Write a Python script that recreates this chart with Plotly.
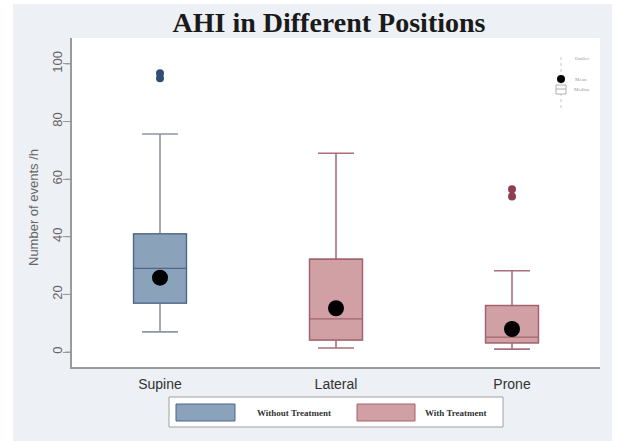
import plotly.graph_objects as go

# ---- data ----
positions = ["Supine", "Lateral", "Prone"]
group_without = ["Supine"]
group_with = ["Lateral", "Prone"]
q1_without = [17]
median_without = [29]
q3_without = [41]
lower_without = [7]
upper_without = [75.7]
q1_with = [4.2, 3.2]
median_with = [11.5, 5.2]
q3_with = [32.2, 16.1]
lower_with = [1.4, 1.0]
upper_with = [69, 28.2]
means = [25.8, 15.2, 8.0]
outlier_without_x = ["Supine", "Supine"]
outlier_without_y = [95.0, 96.8]
outlier_with_x = ["Prone", "Prone"]
outlier_with_y = [54.0, 56.5]
y_ticks = [0, 20, 40, 60, 80, 100]
legend_labels = ["Without Treatment", "With Treatment"]

W, H = 617, 441
PL, PR = 13, 600          # paper left / right (pixels)
L, T, B = 72, 38, 367     # plot area left, top, bottom (pixels)
Y_RANGE = [-5.2, 109]


def px(x):
    return (x - PL) / (PR - PL)


def py(y):
    return (B - y) / (B - T)


BLUE_FILL = "#8ba2bb"
BLUE_LINE = "#4c6787"
BLUE_WHISK = "#8e96a2"
PINK_FILL = "#d0a0a4"
PINK_LINE = "#a2636c"
PINK_WHISK = "#a87078"

fig = go.Figure()

# whisker layers
fig.add_trace(go.Box(x=group_without, q1=q1_without, median=median_without, q3=q3_without,
                     lowerfence=lower_without, upperfence=upper_without,
                     width=0.3, whiskerwidth=0.68, fillcolor="rgba(0,0,0,0)",
                     line=dict(color=BLUE_WHISK, width=1.6), showlegend=False, hoverinfo="skip"))
fig.add_trace(go.Box(x=group_with, q1=q1_with, median=median_with, q3=q3_with,
                     lowerfence=lower_with, upperfence=upper_with,
                     width=0.3, whiskerwidth=0.68, fillcolor="rgba(0,0,0,0)",
                     line=dict(color=PINK_WHISK, width=1.6), showlegend=False, hoverinfo="skip"))
# box layers
fig.add_trace(go.Box(x=group_without, q1=q1_without, median=median_without, q3=q3_without,
                     lowerfence=q1_without, upperfence=q3_without,
                     width=0.3, whiskerwidth=0, fillcolor=BLUE_FILL,
                     line=dict(color=BLUE_LINE, width=1.3), name=legend_labels[0], showlegend=False))
fig.add_trace(go.Box(x=group_with, q1=q1_with, median=median_with, q3=q3_with,
                     lowerfence=q1_with, upperfence=q3_with,
                     width=0.3, whiskerwidth=0, fillcolor=PINK_FILL,
                     line=dict(color=PINK_LINE, width=1.3), name=legend_labels[1], showlegend=False))
# means (on the label axis, which shares the same range)
fig.add_trace(go.Scatter(x=positions, y=means, mode="markers", yaxis="y2",
                         marker=dict(color="black", size=16), showlegend=False))
# outliers
fig.add_trace(go.Scatter(x=outlier_without_x, y=outlier_without_y, mode="markers", yaxis="y2",
                         marker=dict(color="#2f4e70", size=8), showlegend=False))
fig.add_trace(go.Scatter(x=outlier_with_x, y=outlier_with_y, mode="markers", yaxis="y2",
                         marker=dict(color="#8e3f4e", size=8), showlegend=False))

shapes = []
# white outer margins
shapes.append(dict(type="rect", xref="paper", yref="paper", x0=px(0), x1=px(13), y0=py(H), y1=py(0),
                   fillcolor="white", line=dict(width=0), layer="below"))
shapes.append(dict(type="rect", xref="paper", yref="paper", x0=px(0), x1=px(W), y0=py(4), y1=py(0),
                   fillcolor="white", line=dict(width=0), layer="below"))
shapes.append(dict(type="rect", xref="paper", yref="paper", x0=px(612), x1=px(W), y0=py(H), y1=py(0),
                   fillcolor="white", line=dict(width=0), layer="below"))

# mini key in top-right
shapes.append(dict(type="line", xref="paper", yref="paper", x0=px(561), x1=px(561), y0=py(108), y1=py(54),
                   line=dict(color="#c8c8c8", width=1, dash="dot")))
shapes.append(dict(type="circle", xref="paper", yref="paper", x0=px(557), x1=px(565), y0=py(83), y1=py(75),
                   fillcolor="black", line=dict(width=0)))
shapes.append(dict(type="rect", xref="paper", yref="paper", x0=px(556), x1=px(566), y0=py(94), y1=py(85),
                   fillcolor="white", line=dict(color="#b0b0b0", width=1)))
shapes.append(dict(type="line", xref="paper", yref="paper", x0=px(556), x1=px(566), y0=py(89), y1=py(89),
                   line=dict(color="#b0b0b0", width=1)))

# y tick marks drawn in the margin, at the tick values on the y axis scale
for v in y_ticks:
    shapes.append(dict(type="line", xref="paper", yref="y", x0=px(65), x1=px(72), y0=v, y1=v,
                       line=dict(color="#9a9a9a", width=1)))

# bottom legend
shapes.append(dict(type="rect", xref="paper", yref="paper", x0=px(169), x1=px(503), y0=py(427), y1=py(397),
                   fillcolor="white", line=dict(color="#a0a0a0", width=1)))
shapes.append(dict(type="rect", xref="paper", yref="paper", x0=px(176), x1=px(235), y0=py(421), y1=py(404),
                   fillcolor=BLUE_FILL, line=dict(color=BLUE_LINE, width=1)))
shapes.append(dict(type="rect", xref="paper", yref="paper", x0=px(357), x1=px(415), y0=py(421), y1=py(404),
                   fillcolor=PINK_FILL, line=dict(color=PINK_LINE, width=1)))

annotations = [
    dict(text="Outlier", x=px(573), y=py(58), xref="paper", yref="paper", showarrow=False,
         xanchor="left", yanchor="middle", font=dict(size=5, color="#999999", family="Liberation Serif")),
    dict(text="Mean", x=px(573), y=py(79), xref="paper", yref="paper", showarrow=False,
         xanchor="left", yanchor="middle", font=dict(size=5, color="#999999", family="Liberation Serif")),
    dict(text="Median", x=px(572), y=py(89), xref="paper", yref="paper", showarrow=False,
         xanchor="left", yanchor="middle", font=dict(size=5, color="#999999", family="Liberation Serif")),
    dict(text="<b>" + legend_labels[0] + "</b>", x=px(294), y=py(413), xref="paper", yref="paper",
         showarrow=False, xanchor="center", yanchor="middle",
         font=dict(size=9, color="#333333", family="Liberation Serif")),
    dict(text="<b>" + legend_labels[1] + "</b>", x=px(456), y=py(413), xref="paper", yref="paper",
         showarrow=False, xanchor="center", yanchor="middle",
         font=dict(size=9, color="#333333", family="Liberation Serif")),
    dict(text="Number of events /h", x=px(33), y=py(208), xref="paper", yref="paper", showarrow=False,
         textangle=-90, xanchor="center", yanchor="middle",
         font=dict(size=13, color="#666666", family="Liberation Sans")),
]

fig.update_layout(
    width=W, height=H,
    margin=dict(l=PL, r=W - PR, t=T, b=H - B, pad=0),
    paper_bgcolor="#edf0f4",
    plot_bgcolor="white",
    boxmode="overlay",
    showlegend=False,
    title=dict(text="<b>AHI in Different Positions</b>", x=px(329), xref="paper", xanchor="center",
               y=1 - 22 / H, yref="container", yanchor="middle",
               font=dict(size=28, color="#1a1a1a", family="Liberation Serif")),
    shapes=shapes,
    annotations=annotations,
    xaxis=dict(type="category", categoryorder="array", categoryarray=positions,
               domain=[px(L), 1],
               range=[-0.5, 2.5], showgrid=False, zeroline=False,
               showline=True, linecolor="#9a9a9a", linewidth=1.5, ticks="",
               tickfont=dict(size=14, color="#333333", family="Liberation Sans"),
               ticklabelstandoff=3),
    yaxis=dict(range=Y_RANGE, tickvals=y_ticks, showticklabels=False,
               showgrid=False, zeroline=False, showline=True, linecolor="#9a9a9a", linewidth=1.5,
               ticks="outside", ticklen=7, tickcolor="#9a9a9a", tickwidth=1),
    yaxis2=dict(range=Y_RANGE, overlaying="y", anchor="free", side="left", position=px(65),
                tickvals=y_ticks, ticktext=[str(v) for v in y_ticks], ticks="",
                showgrid=False, zeroline=False, showline=False,
                tickangle=-90, tickfont=dict(size=13, color="#666666", family="Liberation Sans")),
)

fig.write_html("out.html", config={"displayModeBar": False},
               post_script="document.body.style.margin='0';")
